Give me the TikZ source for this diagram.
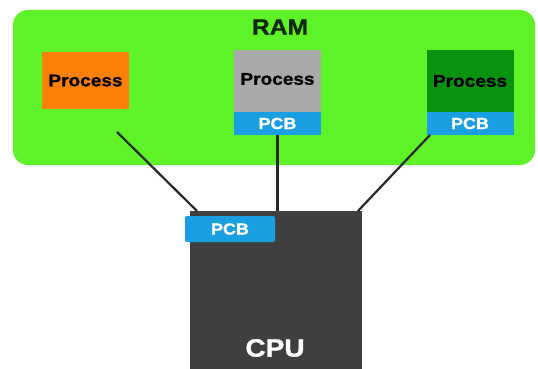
\documentclass[tikz,border=0pt]{standalone}
\usepackage{fontspec}
\setmainfont{Liberation Sans}
\newfontfamily\heavy{Liberation Sans}[FakeStretch=1.12,BoldFeatures={FakeBold=1.2}]
\definecolor{ramgreen}{RGB}{94,242,40}
\definecolor{procorange}{RGB}{255,128,8}
\definecolor{procgray}{RGB}{170,170,170}
\definecolor{procdark}{RGB}{8,146,16}
\definecolor{pcbblue}{RGB}{26,160,226}
\definecolor{cpugray}{RGB}{64,63,64}
\definecolor{wire}{RGB}{40,40,40}
\tikzset{
  block/.style={rectangle, inner sep=0pt, outer sep=0pt, draw=none},
  proc/.style={block, minimum width=87pt, minimum height=62pt,
    font=\heavy\bfseries\fontsize{17}{18}\selectfont, text=black},
  pcbbox/.style={block, fill=pcbblue, minimum width=87pt, minimum height=23pt,
    font=\heavy\bfseries\fontsize{16}{17}\selectfont, text=white},
  link/.style={draw=wire, line width=2.2pt}
}
\begin{document}
\begin{tikzpicture}[x=1pt, y=-1pt]
  \useasboundingbox (0,0) rectangle (538,369);

  % main memory
  \node[block, fill=ramgreen, rounded corners=15pt, minimum width=522pt,
        minimum height=155pt] (ram) at (274,87.5) {};
  \node[font=\heavy\bfseries\fontsize{22}{23}\selectfont, text={rgb,255:red,12;green,40;blue,12},
        inner sep=0pt] (ramlabel) at (280,27) {RAM};

  % processes held in memory
  \node[proc, fill=procorange, minimum height=57pt] (p1) at (85.5,80.5) {Process};
  \node[proc, fill=procgray] (p2) at (277.5,81) {};
  \node[proc] (t2) at (277.5,79) {Process};
  \node[pcbbox] (b2) at (277.5,123.5) {PCB};
  \node[proc, fill=procdark] (p3) at (470,81) {Process};
  \node[pcbbox] (b3) at (470,123.5) {PCB};

  % processor
  \node[block, fill=cpugray, minimum width=172pt, minimum height=160pt] (cpu) at (276,291) {};
  \node[font=\heavy\bfseries\fontsize{25}{26}\selectfont, text=white, inner sep=0pt]
        (cpulabel) at (275,348) {CPU};

  % links between memory and processor
  \coordinate (s1) at (117,132);
  \coordinate (e1) at (197,211);
  \coordinate (s3) at (430,135);
  \coordinate (e3) at (358,211);
  \draw[link] (s1) -- (e1);
  \draw[link] (b2.south) -- (b2.south |- cpu.north);
  \draw[link] (s3) -- (e3);

  % control block currently loaded on the processor
  \node[pcbbox, rounded corners=2pt, minimum width=90pt, minimum height=26pt] (b1) at (230,229) {PCB};
\end{tikzpicture}
\end{document}
